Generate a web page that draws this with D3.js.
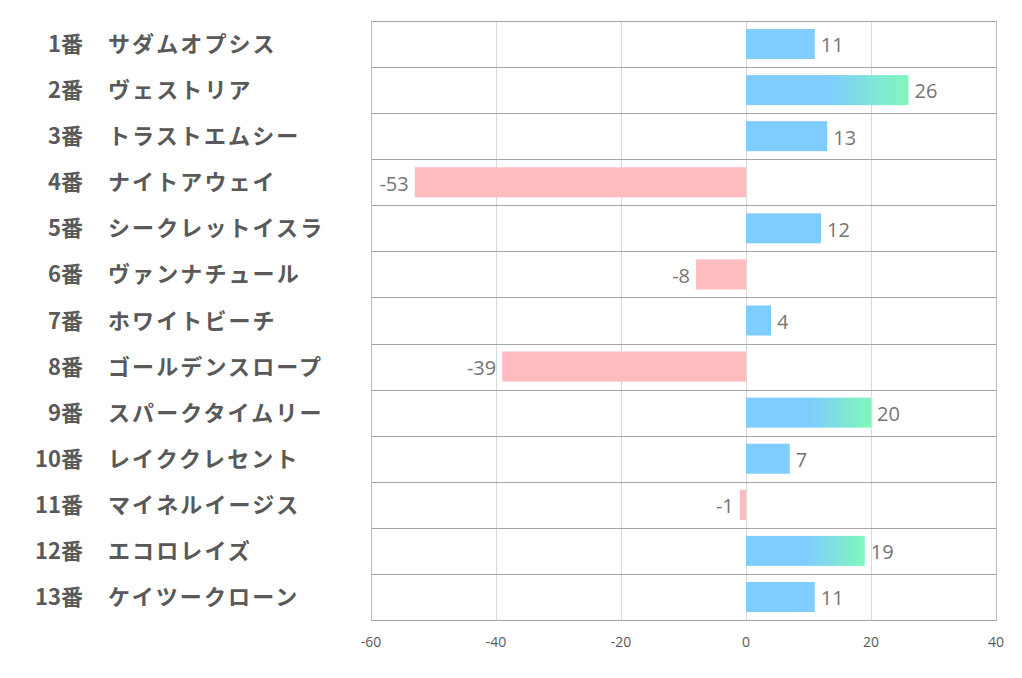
<!DOCTYPE html>
<html><head><meta charset="utf-8">
<script src="https://cdn.jsdelivr.net/npm/d3@7"></script>
<style>body{margin:0;background:#fff}svg{display:block}</style>
</head><body>
<svg id="c" width="1022" height="678"></svg>
<script>
const numbers = ["1番","2番","3番","4番","5番","6番","7番","8番","9番","10番","11番","12番","13番"];
const names = ["サダムオプシス","ヴェストリア","トラストエムシー","ナイトアウェイ","シークレットイスラ","ヴァンナチュール","ホワイトビーチ","ゴールデンスロープ","スパークタイムリー","レイククレセント","マイネルイージス","エコロレイズ","ケイツークローン"];
const values = [11,26,13,-53,12,-8,4,-39,20,7,-1,19,11];
const ticks = [-60,-40,-20,0,20,40];

const svg = d3.select("#c");
const L = 371, R = 996, T = 21, B = 620;
const x = d3.scaleLinear().domain([-60,40]).range([L,R]);
const y = d3.scaleBand().domain(d3.range(values.length)).range([T,B]).paddingInner(0).paddingOuter(0);

const defs = svg.append("defs");
const grad = defs.append("linearGradient").attr("id","g").attr("x1","0").attr("x2","1").attr("y1","0").attr("y2","0");
grad.append("stop").attr("offset","0").attr("stop-color","#7fccff");
grad.append("stop").attr("offset","0.5").attr("stop-color","#7fccff");
grad.append("stop").attr("offset","1").attr("stop-color","#80f8bb");

// vertical gridlines
svg.append("g").selectAll("line").data(ticks).join("line")
  .attr("x1",d=>x(d)+0.5).attr("x2",d=>x(d)+0.5).attr("y1",T).attr("y2",B)
  .attr("stroke",d=>(d===-60||d===40)?"#bfbfbf":"#d9d9d9").attr("stroke-width",1);
// horizontal lines
const hl = d3.range(values.length+1).map(i=> i<values.length ? y(i) : B);
svg.append("g").selectAll("line").data(hl).join("line")
  .attr("x1",L).attr("x2",R+1).attr("y1",d=>Math.round(d)+0.5).attr("y2",d=>Math.round(d)+0.5)
  .attr("stroke","#a6a6a6").attr("stroke-width",1);

const bh = 30;
svg.append("g").selectAll("rect").data(values).join("rect")
  .attr("x",d=>x(Math.min(0,d))).attr("width",d=>Math.abs(x(d)-x(0)))
  .attr("y",(d,i)=>y(i)+y.bandwidth()/2-bh/2).attr("height",bh)
  .attr("fill",d=> d<0 ? "#ffbbbe" : (d>=19 ? "url(#g)" : "#7fccff"));

// value labels
svg.append("g").selectAll("text").data(values).join("text")
  .attr("x",d=> d<0 ? x(d)-6 : x(d)+6)
  .attr("y",(d,i)=>y(i)+y.bandwidth()/2+3)
  .attr("text-anchor",d=>d<0?"end":"start")
  .attr("dominant-baseline","middle")
  .attr("font-family","'Open Sans','Noto Sans',sans-serif").attr("font-size",20)
  .attr("fill","#757575").text(d=>d);

// tick labels
svg.append("g").selectAll("text").data(ticks).join("text")
  .attr("x",d=>x(d)).attr("y",647).attr("text-anchor","middle")
  .attr("font-family","'Open Sans','Noto Sans',sans-serif").attr("font-size",14)
  .attr("fill","#595959").text(d=>d);

// category labels
const lab = svg.append("g").attr("font-family","'Noto Sans CJK JP',sans-serif").attr("font-weight","bold")
  .attr("font-size",22).attr("fill","#595959");
lab.selectAll("text.n").data(numbers).join("text").attr("class","n")
  .attr("x",83).attr("y",(d,i)=>y(i)+y.bandwidth()/2-2).attr("text-anchor","end")
  .attr("dominant-baseline","central").text(d=>d);
lab.selectAll("text.m").data(names).join("text").attr("class","m")
  .attr("x",108).attr("y",(d,i)=>y(i)+y.bandwidth()/2-2).attr("text-anchor","start")
  .attr("letter-spacing",2.1)
  .attr("dominant-baseline","central").text(d=>d);
</script>
</body></html>
